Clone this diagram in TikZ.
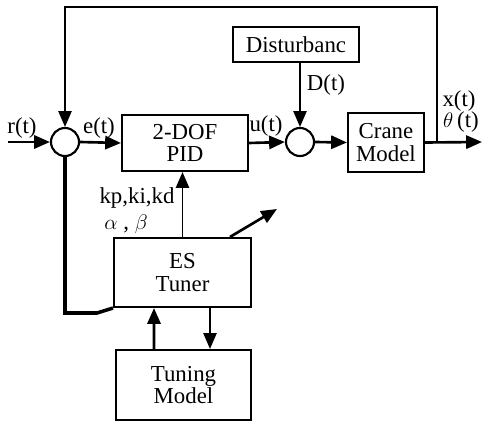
\documentclass[tikz,border=0pt]{standalone}
\usepackage{fontspec}
\setmainfont{Liberation Serif}
\usepackage{amsmath, amssymb}
\usepackage{tikz}
\usetikzlibrary{calc, positioning, arrows.meta}

\begin{document}
\begin{tikzpicture}[x=0.02cm, y=-0.02cm, >={Triangle[length=9pt, width=7.5pt]},
    khoi/.style={draw, line width=1.2pt, align=center, inner sep=0pt, font=\fontsize{13}{13}\selectfont},
    tong/.style={draw, circle, line width=1.2pt, minimum size=0.56cm, inner sep=0pt},
    tinhieu/.style={line width=1.5pt},
    manh/.style={line width=1pt},
    nhan/.style={font=\fontsize{13}{13}\selectfont, inner sep=0pt}]

    \useasboundingbox (0,0) rectangle (483,422);

    % =================================================================
    % 1. CÁC KHỐI VÀ BỘ CỘNG
    % =================================================================
    \node[tong] (sumA) at (65,142) {};
    \node[khoi, minimum width=2.52cm, minimum height=1.12cm] (pid) at (185,143) {2-DOF\\PID};
    \node[tong] (sumB) at (300,142) {};
    \node[khoi, minimum width=2.52cm, minimum height=0.70cm] (dist) at (296,44.5) {Disturbanc};
    \node[khoi, minimum width=1.52cm, minimum height=1.18cm] (crane) at (386,142.5) {Crane\\Model};
    \node[khoi, minimum width=2.74cm, minimum height=1.38cm] (es) at (182.5,272.5) {ES\\Tuner};
    \node[khoi, minimum width=2.70cm, minimum height=1.40cm] (tune) at (183.5,385) {Tuning\\Model};

    % Các điểm phụ
    \coordinate (vao) at (8,142);
    \coordinate (ra) at (482,142);
    \coordinate (tap) at (437,142);
    \coordinate (tren) at (437,7);
    \coordinate (duoi) at (65,313);
    \coordinate (gap) at (97,313);
    \coordinate (cheo) at (277,209);

    % =================================================================
    % 2. CÁC ĐƯỜNG TÍN HIỆU
    % =================================================================
    \draw[->, tinhieu] (vao) -- (sumA.west);
    \draw[->, tinhieu] (sumA.east) -- (pid.west);
    \draw[->, tinhieu] (pid.east) -- (sumB.west);
    \draw[->, tinhieu] (sumB.east) -- (crane.west);
    \draw[->, tinhieu] (crane.east) -- (ra);
    \draw[->, manh] (tap) -- (tren) -| (sumA.north);
    \draw[->, manh] (sumB.north |- dist.south) -- (sumB.north);
    \draw[->, manh] (es.north) -- (es.north |- pid.south);
    \draw[line width=2pt] (sumA.south) -- (duoi) -- (gap) -- (es.south west);
    \draw[->, tinhieu] ([xshift=-0.59cm]tune.north) -- ([xshift=-0.57cm]es.south);
    \draw[->, manh] ([xshift=0.55cm]es.south) -- ([xshift=0.53cm]tune.north);
    \draw[->, tinhieu] ([xshift=0.95cm]es.north) -- (cheo);

    % =================================================================
    % 3. NHÃN
    % =================================================================
    \node[nhan] (lr) at (22,128) {r(t)};
    \node[nhan] (le) at (99,128) {e(t)};
    \node[nhan] (lu) at (266,126) {u(t)};
    \node[nhan] (ld) at (326,85) {D(t)};
    \node[nhan] (lx) at (459,101) {x(t)};
    \node[nhan] (lth) at (461,122) {$\theta$\,(t)};
    \node[nhan] (lk) at (137,198) {kp,ki,kd};
    \node[nhan] (lab) at (126,224) {$\alpha$ , $\beta$};

\end{tikzpicture}
\end{document}
